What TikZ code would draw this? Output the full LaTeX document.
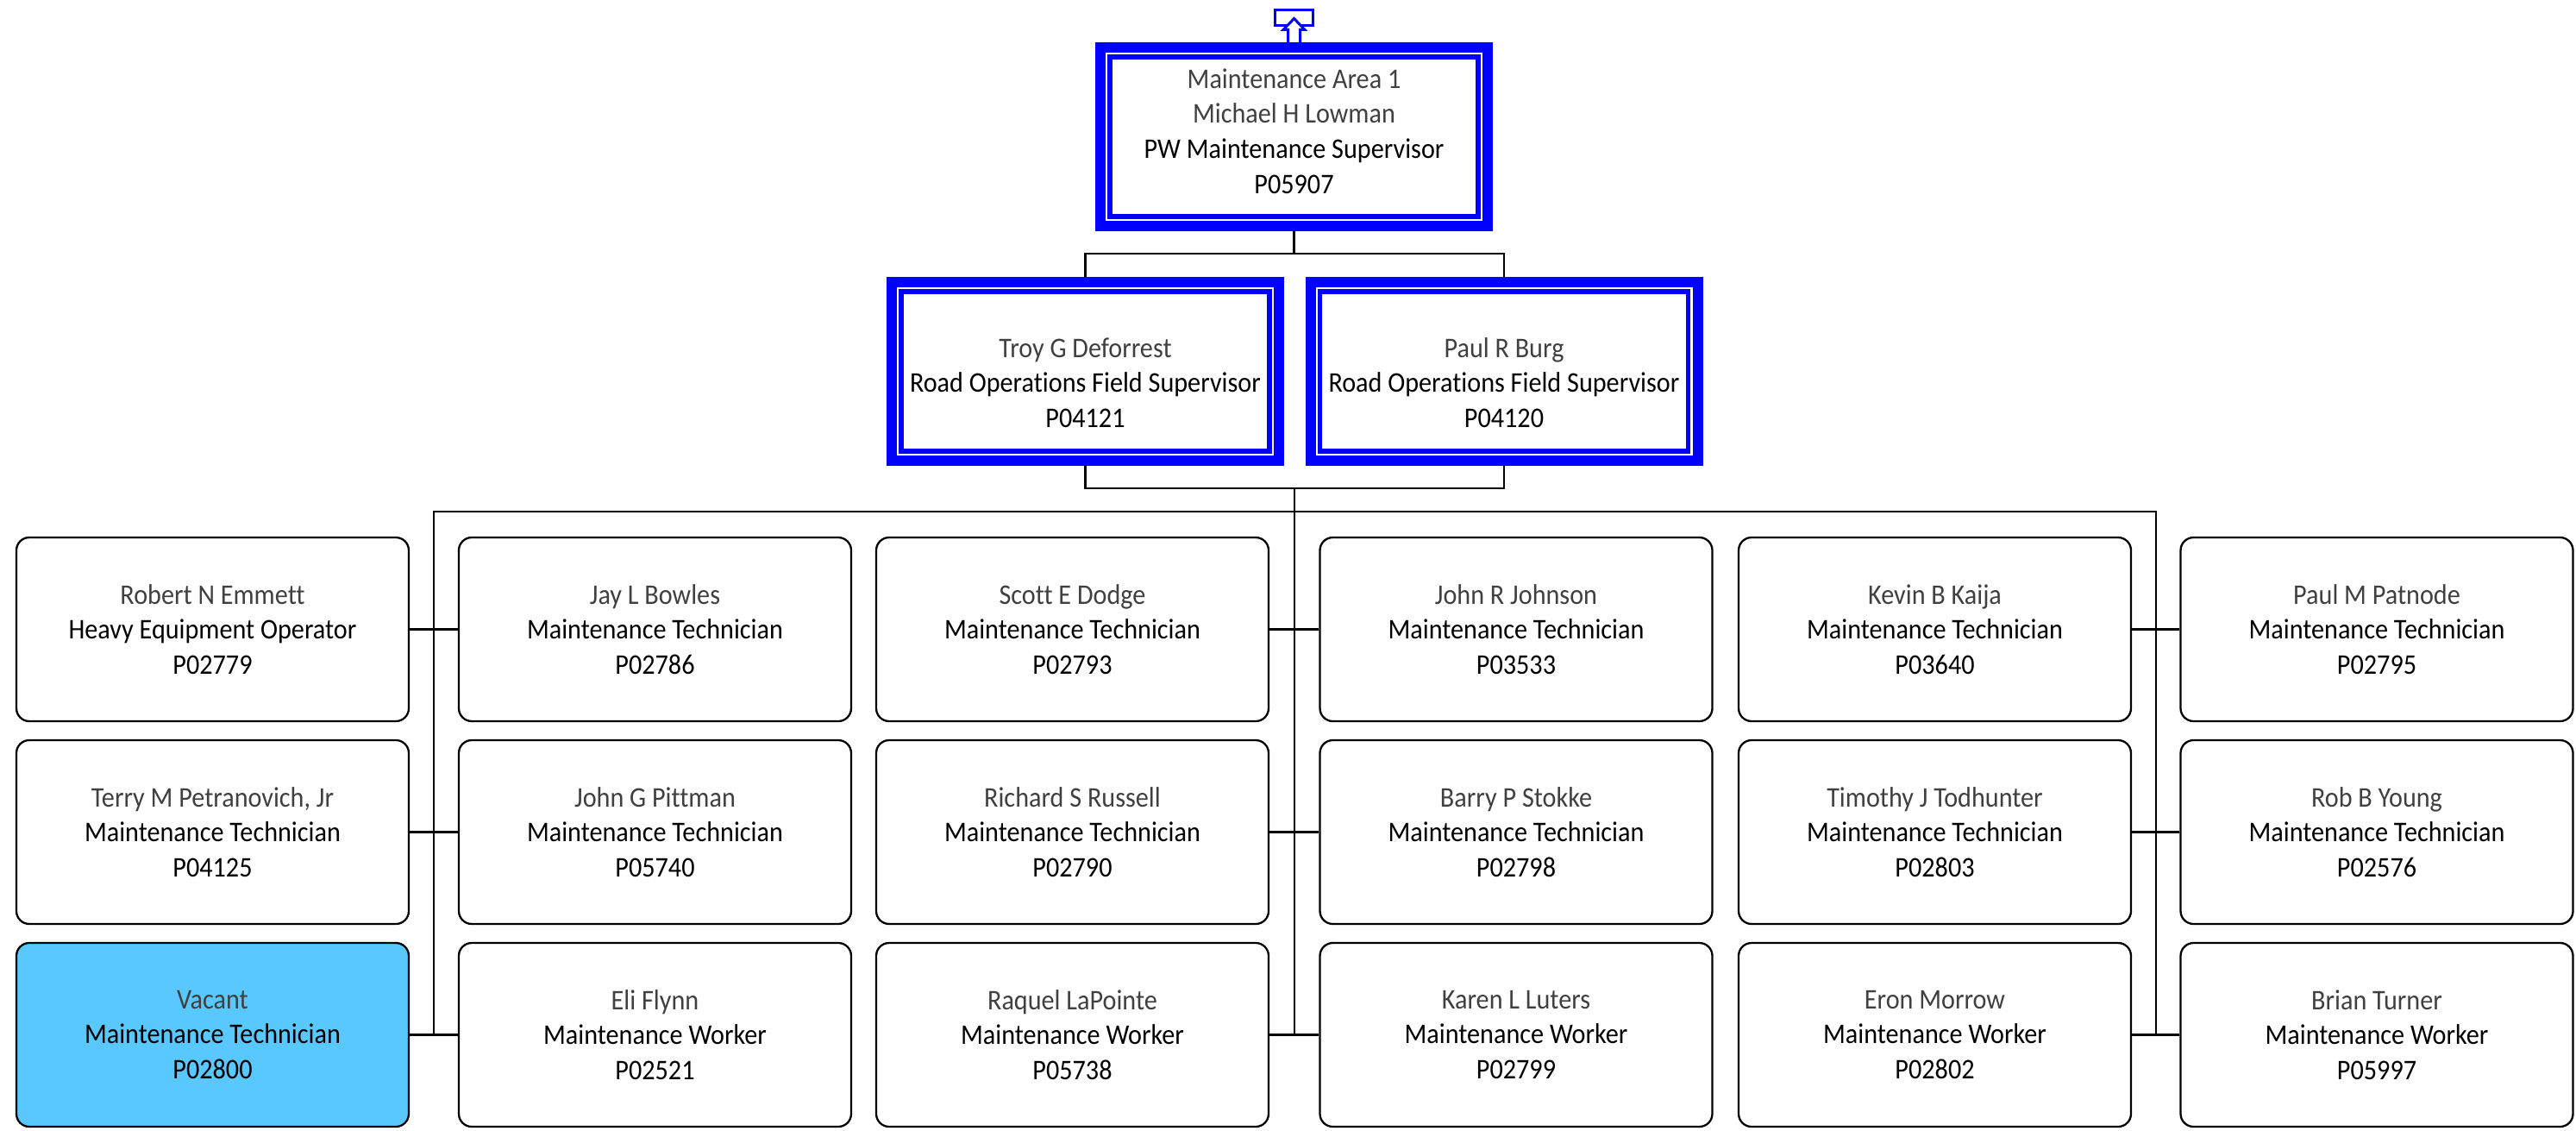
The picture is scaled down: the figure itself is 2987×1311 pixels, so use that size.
\documentclass[tikz,border=0pt]{standalone}
\usepackage{fontspec}
\setmainfont{Carlito}[FakeStretch=0.915, Ligatures={NoCommon}]
\usetikzlibrary{calc}
\definecolor{orgblue}{RGB}{0,0,255}
\definecolor{namegray}{RGB}{64,64,64}
\definecolor{vacantfill}{RGB}{88,200,255}
\newcommand\pname[1]{\textcolor{namegray}{#1}}
\begin{document}
\begin{tikzpicture}[x=1pt,y=-1pt,
  every node/.style={font=\fontsize{33}{40.7}\selectfont},
  leafbox/.style={draw=black, line width=2.3pt, fill=white, rounded corners=15pt,
    minimum width=455pt, minimum height=213pt, inner sep=0pt, align=center},
  vacantbox/.style={leafbox, fill=vacantfill},
  headbox/.style={draw=orgblue, line width=12pt, fill=white,
    minimum width=449pt, minimum height=207pt, inner sep=0pt,
    path picture={\draw[orgblue, line width=5.5pt]
      ([shift={(11pt,-11pt)}]path picture bounding box.north west) rectangle
      ([shift={(-11pt,11pt)}]path picture bounding box.south east);}},
  headtext/.style={align=center, inner sep=0pt},
  link/.style={draw=black, line width=2.3pt},
]
\useasboundingbox (0,0) rectangle (2987,1311);

% management boxes
\node[headbox] (top) at (1500.5,158.5) {};
\node[headtext] (top-txt) at (1500.5,152) {\pname{Maintenance Area 1}\\\pname{Michael H Lowman}\\PW Maintenance Supervisor\\P05907};
\node[headbox] (sup1) at (1258.5,430.5) {};
\node[headtext] (sup1-txt) at (1258.5,443.5) {\pname{Troy G Deforrest}\\Road Operations Field Supervisor\\P04121};
\node[headbox] (sup2) at (1744,430.5) {};
\node[headtext] (sup2-txt) at (1744,443.5) {\pname{Paul R Burg}\\Road Operations Field Supervisor\\P04120};

% up-link marker above the top box
\draw[orgblue, line width=3pt] (1478,12) rectangle (1522,30);
\filldraw[fill=white, draw=orgblue, line width=3pt, line join=miter]
  (1493.5,49) -- (1493.5,34.5) -- (1488,34.5) -- (1500.5,21.5) -- (1513,34.5) -- (1507.5,34.5) -- (1507.5,49);

% staff, row 1
\node[leafbox] (r1c1) at (246.5,729.5) {\pname{Robert N Emmett}\\Heavy Equipment Operator\\P02779};
\node[leafbox] (r1c2) at (759.5,729.5) {\pname{Jay L Bowles}\\Maintenance Technician\\P02786};
\node[leafbox] (r1c3) at (1243.5,729.5) {\pname{Scott E Dodge}\\Maintenance Technician\\P02793};
\node[leafbox] (r1c4) at (1758,729.5) {\pname{John R Johnson}\\Maintenance Technician\\P03533};
\node[leafbox] (r1c5) at (2243.5,729.5) {\pname{Kevin B Kaija}\\Maintenance Technician\\P03640};
\node[leafbox] (r1c6) at (2756,729.5) {\pname{Paul M Patnode}\\Maintenance Technician\\P02795};
% staff, row 2
\node[leafbox] (r2c1) at (246.5,964.5) {\pname{Terry M Petranovich, Jr}\\Maintenance Technician\\P04125};
\node[leafbox] (r2c2) at (759.5,964.5) {\pname{John G Pittman}\\Maintenance Technician\\P05740};
\node[leafbox] (r2c3) at (1243.5,964.5) {\pname{Richard S Russell}\\Maintenance Technician\\P02790};
\node[leafbox] (r2c4) at (1758,964.5) {\pname{Barry P Stokke}\\Maintenance Technician\\P02798};
\node[leafbox] (r2c5) at (2243.5,964.5) {\pname{Timothy J Todhunter}\\Maintenance Technician\\P02803};
\node[leafbox] (r2c6) at (2756,964.5) {\pname{Rob B Young}\\Maintenance Technician\\P02576};
% staff, row 3
\node[vacantbox] (r3c1) at (246.5,1199.5) {\pname{Vacant}\\Maintenance Technician\\P02800};
\node[leafbox] (r3c2) at (759.5,1199.5) {\pname{Eli Flynn}\\Maintenance Worker\\P02521};
\node[leafbox] (r3c3) at (1243.5,1199.5) {\pname{Raquel LaPointe}\\Maintenance Worker\\P05738};
\node[leafbox] (r3c4) at (1758,1199.5) {\pname{Karen L Luters}\\Maintenance Worker\\P02799};
\node[leafbox] (r3c5) at (2243.5,1199.5) {\pname{Eron Morrow}\\Maintenance Worker\\P02802};
\node[leafbox] (r3c6) at (2756,1199.5) {\pname{Brian Turner}\\Maintenance Worker\\P05997};

% reporting lines
\coordinate (topjoin) at (1500.5,294);
\coordinate (supjoin) at (1501,566);
\coordinate (busL) at (503,593);
\coordinate (busR) at (2500,593);
\draw[link] (top.south) -- (topjoin);
\draw[link] (sup1.north) -- (sup1.north |- topjoin) -- (sup2.north |- topjoin) -- (sup2.north);
\draw[link] (sup1.south) -- (sup1.south |- supjoin) -- (sup2.south |- supjoin) -- (sup2.south);
\draw[link] (busL |- r3c1.east) -- (busL) -- (busR) -- (busR |- r3c5.east);
\draw[link] (supjoin) -- (supjoin |- r3c3.east);
\foreach \r in {1,2,3} {
  \draw[link] (r\r c1.east) -- (r\r c2.west);
  \draw[link] (r\r c3.east) -- (r\r c4.west);
  \draw[link] (r\r c5.east) -- (r\r c6.west);
}
\end{tikzpicture}
\end{document}
